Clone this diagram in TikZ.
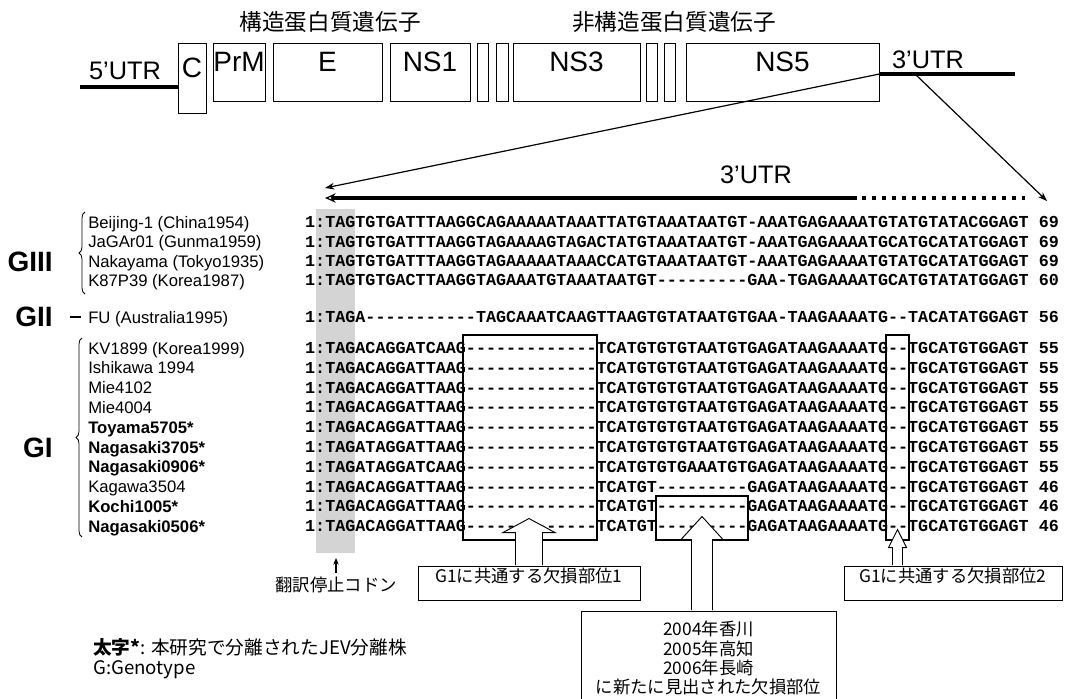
\documentclass[tikz,border=0pt]{standalone}
\usepackage{fontspec}
\setmainfont{Liberation Sans}
\newfontfamily\jpfont{Noto Sans CJK JP}
\newfontfamily\seqfont{Liberation Mono}[Ligatures=TeXOff]
\usetikzlibrary{arrows.meta,calc,fit,decorations.pathreplacing}
\begin{document}
\begin{tikzpicture}[x=0.75pt,y=-0.75pt,
  gbox/.style={draw,line width=0.7pt,inner sep=0pt,font=\fontsize{21}{23}\selectfont},
  utr/.style={line width=2.6pt},
  utrlab/.style={font=\fontsize{19}{21}\selectfont,inner sep=0pt},
  gtitle/.style={font=\jpfont\fontsize{17}{19}\selectfont,inner sep=0pt},
  jp/.style={font=\jpfont\fontsize{13}{14.3}\selectfont,inner sep=0pt},
  foot/.style={font=\jpfont\fontsize{14}{15.5}\selectfont,inner sep=0pt,anchor=west},
  strain/.style={anchor=base west,inner sep=0pt,font=\fontsize{12.5}{14}\selectfont},
  seqs/.style={anchor=base west,inner sep=0pt,font=\seqfont\bfseries\fontsize{12.5625}{14}\selectfont},
  grp/.style={anchor=east,inner sep=0pt,font=\bfseries\fontsize{21}{23}\selectfont},
  zoomarrow/.style={line width=0.9pt,-{Stealth[open,length=7pt,width=5pt]}},
  delbox/.style={draw,line width=1.2pt,inner sep=0pt},
  note/.style={draw,line width=0.7pt,inner sep=0pt,font=\jpfont\fontsize{13}{14.3}\selectfont},
  barrow/.style={draw,line width=0.7pt,fill=white,line join=miter},
  stopshade/.style={fill=black!17,draw=none,inner sep=0pt},
  brc/.style={decorate,decoration={brace,amplitude=4.5pt},line width=0.6pt}
]
\useasboundingbox (0,0) rectangle (1078,699);

% ---------- gene map ----------
\node[gtitle] (st) at (330,22) {構造蛋白質遺伝子};
\node[gtitle] (nst) at (674,22) {非構造蛋白質遺伝子};
\node[gbox,fit={(178,43)(206,113)}] (C) {C};
\node[gbox,fit={(213,43)(265,101)}] (PrM) {PrM};
\node[gbox,fit={(273,43)(382,101)}] (E) {E};
\node[gbox,fit={(390,43)(470,101)}] (NS1) {NS1};
\node[gbox,fit={(477,43)(488,101)}] (s1) {};
\node[gbox,fit={(496,43)(508,101)}] (s2) {};
\node[gbox,fit={(513,43)(640,101)}] (NS3) {NS3};
\node[gbox,fit={(646,43)(657,101)}] (s3) {};
\node[gbox,fit={(664,43)(675,101)}] (s4) {};
\node[gbox,fit={(686,43)(879,101)}] (NS5) {NS5};

\coordinate (u5s) at (80,87);
\draw[utr] (u5s) -- (u5s -| C.west);
\node[utrlab] (u5l) at (125,71) {5’UTR};
\coordinate (u3e) at (1015,74);
\draw[utr] (u3e -| NS5.east) -- (u3e);
\node[utrlab] (u3l) at (928,60) {3’UTR};

% ---------- zoom arrows ----------
\coordinate (j1) at (NS5.east |- u3e);
\coordinate (j2) at (915,74);
\coordinate (a1) at (325,188);
\coordinate (a2) at (1047,201);
\draw[zoomarrow] (j1) -- (a1);
\draw[zoomarrow] (j2) -- (a2);
\coordinate (tA) at (857,198);
\coordinate (tB) at (325,198);
\coordinate (tD) at (862,198);
\coordinate (tC) at (1025,198);
\draw[line width=2.6pt,-{Stealth[open,length=8pt,width=7pt,line width=0.9pt]}] (tA) -- (tB);
\draw[line width=2.6pt,dash pattern=on 3pt off 4.5pt] (tD) -- (tC);
\node[utrlab] (u3m) at (756,175) {3’UTR};

% ---------- stop codon shading ----------
\node[stopshade,fit={(316,209)(355,553)}] (stop) {};

% ---------- groups ----------
\node[grp] (g3) at (53,262) {GIII};
\node[grp] (g2) at (53,317) {GII};
\node[grp] (g1) at (53,448) {GI};
\draw[brc] (85,294) -- (85,212);
\draw[brc] (82,537) -- (82,338);
\draw[line width=0.8pt] (g2.east) ++(17,0) -- ++(11,0);

% ---------- rows ----------
\foreach \yy/\nm/\sq [count=\i] in {
 222/{Beijing-1 (China1954)}/{1:TAGTGTGATTTAAGGCAGAAAAATAAATTATGTAAATAATGT-AAATGAGAAAATGTATGTATACGGAGT 69},
 241.5/{JaGAr01 (Gunma1959)}/{1:TAGTGTGATTTAAGGTAGAAAAGTAGACTATGTAAATAATGT-AAATGAGAAAATGCATGCATATGGAGT 69},
 261/{Nakayama (Tokyo1935)}/{1:TAGTGTGATTTAAGGTAGAAAAATAAACCATGTAAATAATGT-AAATGAGAAAATGTATGCATATGGAGT 69},
 280/{K87P39 (Korea1987)}/{1:TAGTGTGACTTAAGGTAGAAATGTAAATAATGT---------GAA-TGAGAAAATGCATGTATATGGAGT 60},
 317/{FU (Australia1995)}/{1:TAGA-----------TAGCAAATCAAGTTAAGTGTATAATGTGAA-TAAGAAAATG--TACATATGGAGT 56},
 348/{KV1899 (Korea1999)}/{1:TAGACAGGATCAAG-------------TCATGTGTGTAATGTGAGATAAGAAAATG--TGCATGTGGAGT 55},
 367.8/{Ishikawa 1994}/{1:TAGACAGGATTAAG-------------TCATGTGTGTAATGTGAGATAAGAAAATG--TGCATGTGGAGT 55},
 387.6/{Mie4102}/{1:TAGACAGGATTAAG-------------TCATGTGTGTAATGTGAGATAAGAAAATG--TGCATGTGGAGT 55},
 407.4/{Mie4004}/{1:TAGACAGGATTAAG-------------TCATGTGTGTAATGTGAGATAAGAAAATG--TGCATGTGGAGT 55},
 427.2/{\bfseries Toyama5705*}/{1:TAGACAGGATTAAG-------------TCATGTGTGTAATGTGAGATAAGAAAATG--TGCATGTGGAGT 55},
 447/{\bfseries Nagasaki3705*}/{1:TAGATAGGATTAAG-------------TCATGTGTGTAATGTGAGATAAGAAAATG--TGCATGTGGAGT 55},
 466.8/{\bfseries Nagasaki0906*}/{1:TAGATAGGATCAAG-------------TCATGTGTGAAATGTGAGATAAGAAAATG--TGCATGTGGAGT 55},
 486.6/{Kagawa3504}/{1:TAGACAGGATTAAG-------------TCATGT---------GAGATAAGAAAATG--TGCATGTGGAGT 46},
 506.4/{\bfseries Kochi1005*}/{1:TAGACAGGATTAAG-------------TCATGT---------GAGATAAGAAAATG--TGCATGTGGAGT 46},
 526.2/{\bfseries Nagasaki0506*}/{1:TAGACAGGATTAAG-------------TCATGT---------GAGATAAGAAAATG--TGCATGTGGAGT 46}}
{
  \node[strain] (n\i) at (88,\yy+6) {\nm};
  \node[seqs] (s\i) at (304.9,\yy+5.5) {\sq};
}

% ---------- deletion boxes ----------
\node[delbox,fit={(463,335)(597,540)}] (d1) {};
\node[delbox,fit={(656,496)(748,540)}] (d2) {};
\node[delbox,fit={(886,335)(909,540)}] (d3) {};

% ---------- notes ----------
\node[note,fit={(418,566)(640,600)}] (g1a) {G1に共通する欠損部位1};
\node[note,fit={(844,566)(1062,600)}] (g1b) {G1に共通する欠損部位2};
\node[note,fit={(581,611)(836,703)}] (nw) {};
\node[jp,align=center] (nwt) at (708.5,658) {2004年香川\\2005年高知\\2006年長崎\\に新たに見出された欠損部位};

% ---------- block arrows ----------
\draw[barrow] ($(g1a.north)+(-13.5,-0.5)$) -- ++(0,-32.5) -- ++(-12.5,0) -- ++(26,-14) -- ++(26,14) -- ++(-12.5,0) -- ++(0,32.5);
\draw[barrow] ($(d2.south |- nw.north)+(-10.5,-0.5)$) -- ++(0,-70.5) -- ++(-10.5,0) -- ++(21,-23) -- ++(21,23) -- ++(-10.5,0) -- ++(0,70.5);
\draw[barrow] ($(d3.south |- g1b.north)+(-5,-0.5)$) -- ++(0,-17.5) -- ++(-4,0) -- ++(9,-18) -- ++(9,18) -- ++(-4,0) -- ++(0,17.5);

% ---------- stop codon label ----------
\node[jp] (stopl) at (336,585) {翻訳停止コドン};
\coordinate (stoptip) at (336,558);
\draw[line width=0.8pt,-{Stealth[length=5pt,width=4pt]}] ($(stopl.north)+(0,-4)$) -- (stoptip);

% ---------- footnote ----------
\node[foot] (fn1) at (93,647) {{\bfseries 太字*}: 本研究で分離されたJEV分離株};
\node[foot] (fn2) at (93,670) {G:Genotype};
\end{tikzpicture}
\end{document}
